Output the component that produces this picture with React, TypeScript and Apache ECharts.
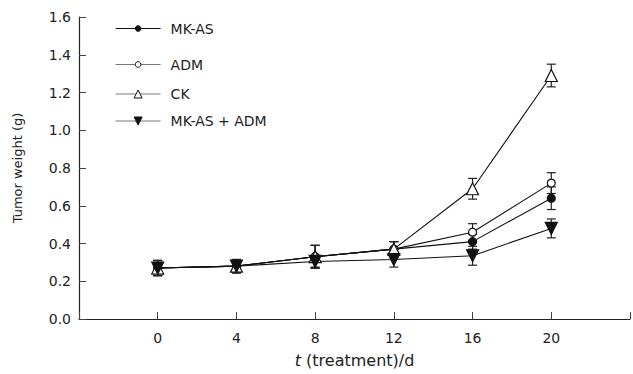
import React, { useEffect, useRef } from "react";
import * as echarts from "echarts";

const days = [0, 4, 8, 12, 16, 20];
const mkas = [0.27, 0.28, 0.33, 0.37, 0.41, 0.64];
const mkasErr = [0.04, 0.035, 0.06, 0.04, 0.04, 0.06];
const adm = [0.27, 0.28, 0.33, 0.37, 0.46, 0.72];
const admErr = [0.04, 0.035, 0.06, 0.04, 0.045, 0.055];
const ck = [0.27, 0.28, 0.33, 0.37, 0.69, 1.29];
const ckErr = [0.04, 0.035, 0.06, 0.04, 0.055, 0.06];
const combo = [0.27, 0.28, 0.305, 0.315, 0.335, 0.48];
const comboErr = [0.04, 0.035, 0.03, 0.04, 0.05, 0.05];

const FONT = "DejaVu Sans";
const invTri = "path://M0,0 L10,0 L5,9 Z";

const seriesDefs = [
  { name: "MK-AS", vals: mkas, err: mkasErr, symbol: "circle", size: 8, fill: "#111", legSize: 7, legLine: "#111" },
  { name: "ADM", vals: adm, err: admErr, symbol: "circle", size: 8, fill: "#fff", legSize: 7, legLine: "#777" },
  { name: "CK", vals: ck, err: ckErr, symbol: "triangle", size: 12, fill: "#fff", legSize: 10, legLine: "#777" },
  { name: "MK-AS + ADM", vals: combo, err: comboErr, symbol: invTri, size: 12, fill: "#111", legSize: 10, legLine: "#777" },
];
const legendCenters = [25, 61, 92, 119];

export default function App() {
  const ref = useRef<HTMLDivElement>(null);
  useEffect(() => {
    if (!ref.current) return;
    const chart = echarts.init(ref.current, undefined, { renderer: "svg" });
    const errData: number[][] = [];
    seriesDefs.forEach((s) => {
      days.forEach((d, i) => errData.push([d, s.vals[i] - s.err[i], s.vals[i] + s.err[i]]));
    });
    const series: any[] = [
      {
        type: "custom",
        name: "err",
        z: 1,
        silent: true,
        data: errData,
        encode: { x: 0, y: [1, 2] },
        renderItem: (params: any, api: any) => {
          const x = api.value(0);
          const lo = api.coord([x, api.value(1)]);
          const hi = api.coord([x, api.value(2)]);
          const w = 4.5;
          const st = { stroke: "#222", lineWidth: 1.2 };
          return {
            type: "group",
            children: [
              { type: "line", shape: { x1: lo[0], y1: lo[1], x2: hi[0], y2: hi[1] }, style: st },
              { type: "line", shape: { x1: lo[0] - w, y1: lo[1], x2: lo[0] + w, y2: lo[1] }, style: st },
              { type: "line", shape: { x1: hi[0] - w, y1: hi[1], x2: hi[0] + w, y2: hi[1] }, style: st },
            ],
          };
        },
      },
    ];
    seriesDefs.forEach((s) => {
      series.push({
        type: "line",
        name: s.name,
        z: 3,
        data: days.map((d, i) => [d, s.vals[i]]),
        symbol: s.symbol,
        symbolSize: s.size,
        showAllSymbol: true,
        lineStyle: { color: "#111", width: 1.1 },
        itemStyle: { color: s.fill, borderColor: "#111", borderWidth: 1.2 },
      });
    });
    chart.setOption({
      animation: false,
      backgroundColor: "#fff",
      grid: { left: 79, right: 1, top: 17, bottom: 55 },
      legend: seriesDefs.map((s, i) => ({
        data: [s.name],
        left: 115,
        top: legendCenters[i] - s.legSize / 2,
        padding: 0,
        itemWidth: 45,
        itemHeight: s.legSize,
        selectedMode: false,
        lineStyle: { color: s.legLine, width: 1.2 },
        itemStyle: { borderWidth: 1 },
        textStyle: { fontFamily: FONT, fontSize: 14, color: "#222", padding: [0, 0, 0, 5] },
      })),
      xAxis: {
        type: "value",
        min: -4,
        max: 24,
        interval: 4,
        name: "{i|t} (treatment)/d",
        nameLocation: "middle",
        nameGap: 33,
        nameTextStyle: {
          fontFamily: FONT,
          fontSize: 16,
          color: "#222",
          rich: { i: { fontFamily: FONT, fontStyle: "italic", fontSize: 16, color: "#222" } },
        },
        axisLine: { onZero: false, lineStyle: { color: "#222", width: 1.2 } },
        axisTick: { inside: true, length: 7, lineStyle: { color: "#444" } },
        splitLine: { show: false },
        axisLabel: {
          margin: 12,
          fontFamily: FONT,
          fontSize: 14,
          color: "#222",
          formatter: (v: number) => (v < 0 || v > 20 ? "" : String(v)),
        },
      },
      yAxis: {
        type: "value",
        min: 0,
        max: 1.6,
        interval: 0.2,
        name: "Tumor weight (g)",
        nameLocation: "middle",
        nameGap: 55,
        nameTextStyle: { fontFamily: FONT, fontSize: 13, color: "#222" },
        axisLine: { show: true, onZero: false, lineStyle: { color: "#222", width: 1.2 } },
        axisTick: { show: true, inside: true, length: 7, lineStyle: { color: "#444" } },
        splitLine: { show: false },
        axisLabel: {
          margin: 8,
          fontFamily: FONT,
          fontSize: 14,
          color: "#222",
          formatter: (v: number) => v.toFixed(1),
        },
      },
      series,
    });
    return () => chart.dispose();
  }, []);
  return (
    <div
      ref={ref}
      style={{ position: "fixed", left: 0, top: 0, width: 633, height: 374 }}
    />
  );
}
